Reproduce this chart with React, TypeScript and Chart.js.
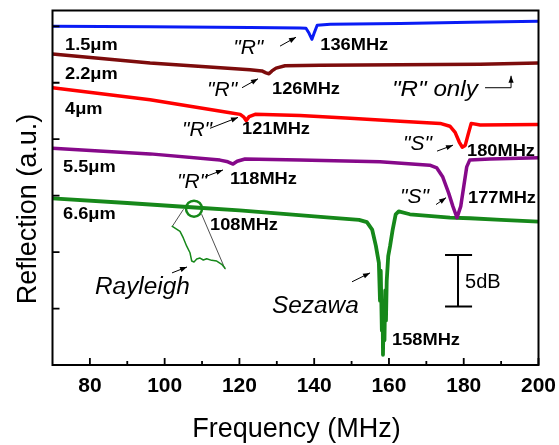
import React, { useEffect, useRef } from "react";
import { Chart, registerables } from "chart.js";

Chart.register(...registerables);

// ---- data (frequency in MHz, reflection in arbitrary units; 1 unit = one y tick) ----
const xTickLabels = [80, 100, 120, 140, 160, 180, 200];
const xMinorTicks = [90, 110, 130, 150, 170, 190];
const yTicks = [1, 2, 3, 4, 5, 6];

const blueFreq = [70, 96.1, 122.8, 136.2, 137.8, 138.6, 139.4, 140.0, 140.8, 144.3, 163.0, 181.7, 200];
const blueVal = [6.0, 5.99, 5.98, 5.97, 5.965, 5.88, 5.77, 5.88, 6.02, 6.035, 6.05, 6.07, 6.09];

const brownFreq = [70, 96.1, 122.8, 126.0, 127.1, 127.9, 128.7, 129.8, 132.2, 141.6, 163.0, 184.4, 200];
const brownVal = [5.51, 5.35, 5.23, 5.21, 5.175, 5.16, 5.21, 5.26, 5.3, 5.31, 5.32, 5.33, 5.35];

const redFreq = [70, 96.1, 117.5, 120.2, 121.2, 121.8, 122.6, 124.2, 136.2, 149.6, 163.0, 173.7, 176.3, 177.7, 178.8, 179.6, 180.4, 181.2, 182.0, 184.4, 200];
const redVal = [4.91, 4.7, 4.47, 4.44, 4.39, 4.33, 4.4, 4.44, 4.42, 4.37, 4.32, 4.28, 4.23, 4.12, 3.95, 3.86, 3.89, 4.09, 4.28, 4.25, 4.26];

const purpleFreq = [70, 96.1, 114.8, 116.9, 118.3, 119.4, 121.5, 136.2, 157.6, 170.9, 172.8, 174.4, 176.0, 177.1, 178.2, 179.2, 180.0, 180.8, 181.6, 187.0, 200];
const purpleVal = [3.84, 3.74, 3.63, 3.6, 3.56, 3.61, 3.65, 3.63, 3.6, 3.54, 3.49, 3.33, 3.04, 2.81, 2.61, 2.81, 3.16, 3.51, 3.63, 3.65, 3.67];

const greenFreq = [70, 90, 108.1, 120, 130.9, 144.2, 152, 154.1, 155.5, 156.5, 157.3, 157.6, 157.8, 158.1, 158.3, 158.4, 158.6, 158.8, 159.0, 159.2, 159.4, 159.8, 160.3, 161.0, 161.8, 162.6, 165.6, 176.3, 181.7, 190, 200];
const greenVal = [2.95, 2.87, 2.79, 2.74, 2.68, 2.61, 2.57, 2.53, 2.4, 2.11, 1.81, 1.14, 1.67, 0.61, 1.14, 0.18, 0.97, 0.44, 1.32, 0.79, 1.49, 1.93, 2.11, 2.4, 2.67, 2.72, 2.67, 2.61, 2.6, 2.57, 2.54];

// magnified inset of the Rayleigh dip (drawn in plot coordinates)
const insetFreq = [102.05, 104.11, 104.99, 105.9, 106.78, 107.24, 107.85, 108.58, 109.46, 110.34, 111.25, 112.59, 113.93, 115.27, 116.15];
const insetVal = [2.456, 2.368, 2.251, 2.105, 1.988, 1.842, 1.825, 1.877, 1.895, 1.86, 1.882, 1.854, 1.842, 1.784, 1.714];
const circleAt = { f: 107.85, v: 2.77 };
const connectorA = [{ x: 104.99, y: 2.754 }, { x: 102.05, y: 2.456 }];
const connectorB = [{ x: 109.91, y: 2.667 }, { x: 116.15, y: 1.702 }];

// annotations: [text, freq, value, style]
const labels: [string, number, number, string][] = [
  ["1.5\u03bcm", 73.34, 5.667, "b"],
  ["2.2\u03bcm", 73.34, 5.14, "b"],
  ["4\u03bcm", 73.34, 4.526, "b"],
  ["5.5\u03bcm", 72.81, 3.491, "b"],
  ["6.6\u03bcm", 72.81, 2.667, "b"],
  ['"R"', 118.35, 5.614, "i"],
  ["136MHz", 141.64, 5.667, "b"],
  ['"R"', 111.33, 4.877, "i"],
  ["126MHz", 128.72, 4.877, "b"],
  ['"R" only', 160.82, 4.877, "o"],
  ['"R"', 104.64, 4.158, "i"],
  ["121MHz", 120.69, 4.175, "b"],
  ['"S"', 163.77, 3.912, "i"],
  ["180MHz", 180.89, 3.772, "b"],
  ['"R"', 103.31, 3.246, "i"],
  ["118MHz", 117.48, 3.281, "b"],
  ['"S"', 162.96, 2.965, "i"],
  ["177MHz", 181.16, 2.947, "b"],
  ["108MHz", 112.13, 2.474, "b"],
  ["Rayleigh", 81.37, 1.368, "I"],
  ["Sezawa", 128.72, 1.035, "I"],
  ["158MHz", 160.82, 0.439, "b"],
  ["5dB", 180.35, 1.456, "n"],
];

// arrows: [fromFreq, fromVal, toFreq, toVal]
const arrows: [number, number, number, number][] = [
  [130.86, 5.649, 135.14, 5.807],
  [120.69, 4.912, 124.97, 5.07],
  [112.13, 4.193, 119.62, 4.386],
  [172.86, 3.789, 177.14, 3.895],
  [110.8, 3.333, 115.61, 3.456],
  [172.59, 2.842, 175.27, 2.965],
  [101.97, 1.632, 105.98, 1.737],
  [150.12, 1.474, 154.94, 1.632],
];
const rOnlyPath = [[185.7, 4.912], [192.66, 4.912], [192.66, 5.123]];
const scaleBar = { f: 178.47, top: 1.947, bottom: 1.035, capL: 175.0, capR: 182.23 };

const FONT = "'Liberation Sans', Arial, Helvetica, sans-serif";

const pts = (xs: number[], ys: number[]) => xs.map((x, i) => ({ x, y: ys[i] }));

const decor = {
  id: "decor",
  afterDatasetsDraw(chart: any) {
    const { ctx, chartArea: a, scales } = chart;
    const xs = scales.x, ys = scales.y;
    const px = (f: number) => xs.getPixelForValue(f);
    const py = (v: number) => ys.getPixelForValue(v);
    ctx.save();
    ctx.strokeStyle = "#000";
    ctx.fillStyle = "#000";
    // frame
    ctx.lineWidth = 2;
    ctx.strokeRect(a.left, a.top, a.right - a.left, a.bottom - a.top);
    // ticks
    ctx.lineWidth = 1.8;
    ctx.beginPath();
    xTickLabels.forEach((t) => { const x = px(t); ctx.moveTo(x, a.bottom); ctx.lineTo(x, a.bottom - 7); });
    xMinorTicks.forEach((t) => { const x = px(t); ctx.moveTo(x, a.bottom); ctx.lineTo(x, a.bottom - 4); });
    yTicks.forEach((t) => { const y = py(t); ctx.moveTo(a.left, y); ctx.lineTo(a.left + 7, y); });
    ctx.stroke();
    // tick labels
    ctx.font = `bold 21px ${FONT}`;
    ctx.textAlign = "center";
    ctx.textBaseline = "alphabetic";
    xTickLabels.forEach((t) => ctx.fillText(String(t), px(t), 392));
    // axis titles
    ctx.font = `27px ${FONT}`;
    ctx.fillText("Frequency (MHz)", (a.left + a.right) / 2 + 1, 437);
    ctx.save();
    ctx.translate(36, 209);
    ctx.rotate(-Math.PI / 2);
    ctx.fillText("Reflection (a.u.)", 0, 0);
    ctx.restore();
    // text annotations
    ctx.textAlign = "left";
    ctx.textBaseline = "middle";
    labels.forEach(([t, f, v, s]) => {
      let sx = 1;
      if (s === "b") { ctx.font = `bold 16px ${FONT}`; sx = 1.14; }
      else if (s === "i") ctx.font = `italic 21px ${FONT}`;
      else if (s === "o") { ctx.font = `italic 22px ${FONT}`; sx = 1.1; }
      else if (s === "I") { ctx.font = `italic 23px ${FONT}`; sx = 1.06; }
      else ctx.font = `20px ${FONT}`;
      ctx.save();
      ctx.translate(px(f), py(v));
      ctx.scale(sx, 1);
      ctx.fillText(t, 0, 0);
      ctx.restore();
    });
    // arrows
    const head = (x1: number, y1: number, x2: number, y2: number) => {
      const ang = Math.atan2(y2 - y1, x2 - x1);
      const L = 7, W = 2.6;
      ctx.beginPath();
      ctx.moveTo(x2, y2);
      ctx.lineTo(x2 - L * Math.cos(ang) + W * Math.sin(ang), y2 - L * Math.sin(ang) - W * Math.cos(ang));
      ctx.lineTo(x2 - L * Math.cos(ang) - W * Math.sin(ang), y2 - L * Math.sin(ang) + W * Math.cos(ang));
      ctx.closePath();
      ctx.fill();
    };
    ctx.lineWidth = 1;
    arrows.forEach(([f1, v1, f2, v2]) => {
      const x1 = px(f1), y1 = py(v1), x2 = px(f2), y2 = py(v2);
      ctx.beginPath();
      ctx.moveTo(x1, y1);
      ctx.lineTo(x2, y2);
      ctx.stroke();
      head(x1, y1, x2, y2);
    });
    ctx.beginPath();
    rOnlyPath.forEach(([f, v], i) => (i ? ctx.lineTo(px(f), py(v)) : ctx.moveTo(px(f), py(v))));
    ctx.stroke();
    const last = rOnlyPath[rOnlyPath.length - 1], prev = rOnlyPath[rOnlyPath.length - 2];
    head(px(prev[0]), py(prev[1]), px(last[0]), py(last[1]));
    // scale bar
    ctx.lineWidth = 2;
    ctx.beginPath();
    ctx.moveTo(px(scaleBar.f), py(scaleBar.top));
    ctx.lineTo(px(scaleBar.f), py(scaleBar.bottom));
    ctx.moveTo(px(scaleBar.capL), py(scaleBar.top));
    ctx.lineTo(px(scaleBar.capR), py(scaleBar.top));
    ctx.moveTo(px(scaleBar.capL), py(scaleBar.bottom));
    ctx.lineTo(px(scaleBar.capR), py(scaleBar.bottom));
    ctx.stroke();
    ctx.restore();
  },
};

export default function App() {
  const ref = useRef<HTMLCanvasElement | null>(null);
  useEffect(() => {
    if (!ref.current) return;
    const line = (data: any[], color: string, w: number) => ({
      data,
      borderColor: color,
      backgroundColor: color,
      borderWidth: w,
      pointRadius: 0,
      tension: 0,
      borderJoinStyle: "round",
      borderCapStyle: "round",
      fill: false,
    });
    const chart = new Chart(ref.current, {
      type: "line",
      data: {
        datasets: [
          line(pts(blueFreq, blueVal), "#0a1cf5", 3),
          line(pts(brownFreq, brownVal), "#7d0c0c", 3.5),
          line(pts(redFreq, redVal), "#ff0000", 3.5),
          line(pts(purpleFreq, purpleVal), "#86098a", 3.5),
          line(pts(greenFreq, greenVal), "#16881a", 3.8),
          line(pts(insetFreq, insetVal), "#16881a", 1.5),
          line(connectorA, "#222", 0.8),
          line(connectorB, "#222", 0.8),
          {
            data: [{ x: circleAt.f, y: circleAt.v }],
            showLine: false,
            pointRadius: 8,
            pointStyle: "circle",
            pointBorderWidth: 2.5,
            pointBorderColor: "#16881a",
            pointBackgroundColor: "rgba(0,0,0,0)",
          } as any,
        ],
      },
      options: {
        animation: false,
        responsive: false,
        events: [],
        layout: { padding: { left: 52.5, right: 20.5, top: 7, bottom: 80 } },
        plugins: { legend: { display: false }, tooltip: { enabled: false } },
        scales: {
          x: {
            type: "linear",
            min: 70,
            max: 200,
            ticks: { display: false },
            grid: { display: false, drawTicks: false },
            border: { display: false },
            afterFit: (s: any) => { s.height = 0; },
          },
          y: {
            type: "linear",
            min: 0,
            max: 6.28,
            ticks: { display: false },
            grid: { display: false, drawTicks: false },
            border: { display: false },
            afterFit: (s: any) => { s.width = 0; },
          },
        },
      } as any,
      plugins: [decor],
    });
    return () => chart.destroy();
  }, []);
  return (
    <div style={{ position: "fixed", left: 0, top: 0, width: 559, height: 445, background: "#fff" }}>
      <canvas ref={ref} width={559} height={445} />
    </div>
  );
}
